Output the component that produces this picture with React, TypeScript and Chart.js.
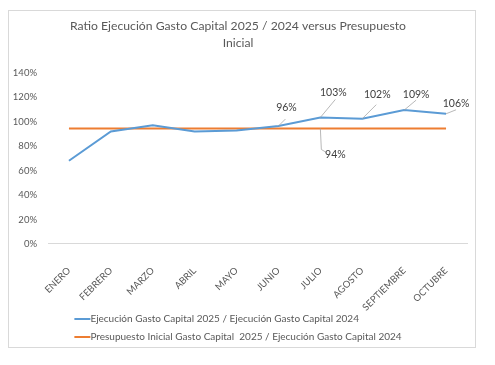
import React, { useEffect, useRef } from "react";
import { Chart, registerables } from "chart.js";

Chart.register(...registerables);

const categories = ["ENERO", "FEBRERO", "MARZO", "ABRIL", "MAYO", "JUNIO", "JULIO", "AGOSTO", "SEPTIEMBRE", "OCTUBRE"];
const ejecucionRatio = [0.68, 0.92, 0.97, 0.92, 0.928, 0.964, 1.034, 1.024, 1.094, 1.064];
const presupuestoRatio = [0.944, 0.944, 0.944, 0.944, 0.944, 0.944, 0.944, 0.944, 0.944, 0.944];
const yTicks = [0, 0.2, 0.4, 0.6, 0.8, 1.0, 1.2, 1.4];
const seriesNames = [
  "Ejecución Gasto Capital 2025 / Ejecución Gasto Capital 2024",
  "Presupuesto Inicial Gasto Capital  2025 / Ejecución Gasto Capital 2024",
];
const titleLines = ["Ratio Ejecución Gasto Capital 2025 / 2024 versus Presupuesto", "Inicial"];

// data labels: dataset, index, label offset, leader path (relative to point)
const labelSpecs = [
  { ds: 0, idx: 5, dx: 8, dy: -18, path: [[0, 0], [7, -7]] },
  { ds: 0, idx: 6, dx: 13, dy: -25, path: [[0, 0], [15, -18]] },
  { ds: 0, idx: 7, dx: 15, dy: -24, path: [[0, 0], [14, -14]] },
  { ds: 0, idx: 8, dx: 12, dy: -16, path: [[0, 0], [12, -10]] },
  { ds: 0, idx: 9, dx: 10, dy: -10, path: [[0, 0], [10, -4]] },
  { ds: 1, idx: 6, dx: 15, dy: 26, path: [[0, 0], [1, 21], [6, 24]] },
];

const FONT = "Lato";
const BLUE = "#5b9bd5";
const ORANGE = "#ed7d31";

const labelsPlugin = {
  id: "dataLabels",
  afterDatasetsDraw(chart: any) {
    const ctx = chart.ctx;
    ctx.save();
    for (const s of labelSpecs) {
      const meta = chart.getDatasetMeta(s.ds);
      const el = meta.data[s.idx];
      if (!el) continue;
      const v = chart.data.datasets[s.ds].data[s.idx] as number;
      const x = el.x;
      const y = el.y;
      ctx.strokeStyle = "#a6a6a6";
      ctx.lineWidth = 0.8;
      ctx.beginPath();
      s.path.forEach((p, i) => {
        if (i === 0) ctx.moveTo(x + p[0], y + p[1]);
        else ctx.lineTo(x + p[0], y + p[1]);
      });
      ctx.stroke();
      ctx.fillStyle = "#404040";
      ctx.font = `10.5px ${FONT}`;
      ctx.textAlign = "center";
      ctx.textBaseline = "middle";
      ctx.fillText(Math.round(v * 100) + "%", x + s.dx, y + s.dy);
    }
    ctx.restore();
  },
};

const legendPlugin = {
  id: "customLegend",
  afterDraw(chart: any) {
    const ctx = chart.ctx;
    ctx.save();
    ctx.font = `10px ${FONT}`;
    const colors = [BLUE, ORANGE];
    const sample = 16;
    const widths = seriesNames.map((n) => ctx.measureText(n).width);
    const block = sample + Math.max(...widths);
    const startX = chart.width / 2 - block / 2 - 4;
    const rows = [chart.height - 28, chart.height - 10];
    seriesNames.forEach((n, i) => {
      ctx.strokeStyle = colors[i];
      ctx.lineWidth = 2;
      ctx.beginPath();
      ctx.moveTo(startX, rows[i]);
      ctx.lineTo(startX + sample, rows[i]);
      ctx.stroke();
      ctx.fillStyle = "#595959";
      ctx.textAlign = "left";
      ctx.textBaseline = "middle";
      ctx.fillText(n, startX + sample, rows[i]);
    });
    ctx.restore();
  },
};

export default function App() {
  const ref = useRef<HTMLCanvasElement>(null);
  useEffect(() => {
    if (!ref.current) return;
    const chart = new Chart(ref.current, {
      type: "line",
      data: {
        labels: categories,
        datasets: [
          {
            label: seriesNames[0],
            data: ejecucionRatio,
            borderColor: BLUE,
            backgroundColor: BLUE,
            borderWidth: 2,
            pointRadius: 0,
            tension: 0,
          },
          {
            label: seriesNames[1],
            data: presupuestoRatio,
            borderColor: ORANGE,
            backgroundColor: ORANGE,
            borderWidth: 2,
            pointRadius: 0,
            tension: 0,
          },
        ],
      },
      options: {
        responsive: false,
        animation: false,
        layout: { padding: { left: 0, right: 8, top: 0, bottom: 21 } },
        plugins: {
          legend: { display: false },
          tooltip: { enabled: false },
          title: {
            display: true,
            text: titleLines,
            color: "#595959",
            font: { family: FONT, size: 12.2, weight: "normal", lineHeight: 1.38 },
            padding: { top: 7, bottom: 21 },
          },
        },
        scales: {
          x: {
            offset: true,
            grid: { display: false },
            border: { display: true, color: "#d9d9d9", width: 1 },
            ticks: {
              color: "#595959",
              font: { family: FONT, size: 9.5 },
              minRotation: 45,
              maxRotation: 45,
              padding: 13,
            },
          },
          y: {
            min: 0,
            max: 1.4,
            afterFit: (s: any) => {
              s.width = 39;
            },
            afterBuildTicks: (s: any) => {
              s.ticks = yTicks.map((v) => ({ value: v }));
            },
            grid: { display: false, drawTicks: false },
            border: { display: false },
            ticks: {
              color: "#595959",
              font: { family: FONT, size: 9.5 },
              padding: 11,
              callback: (v: any) => Math.round(Number(v) * 100) + "%",
            },
          },
        },
      },
      plugins: [labelsPlugin, legendPlugin],
    });
    return () => chart.destroy();
  }, []);
  return (
    <div style={{ paddingTop: 2 }}>
      <div style={{ width: 466, height: 336, border: "1px solid #d9d9d9", background: "#fff" }}>
        <canvas ref={ref} width={466} height={336} style={{ display: "block" }} />
      </div>
    </div>
  );
}
